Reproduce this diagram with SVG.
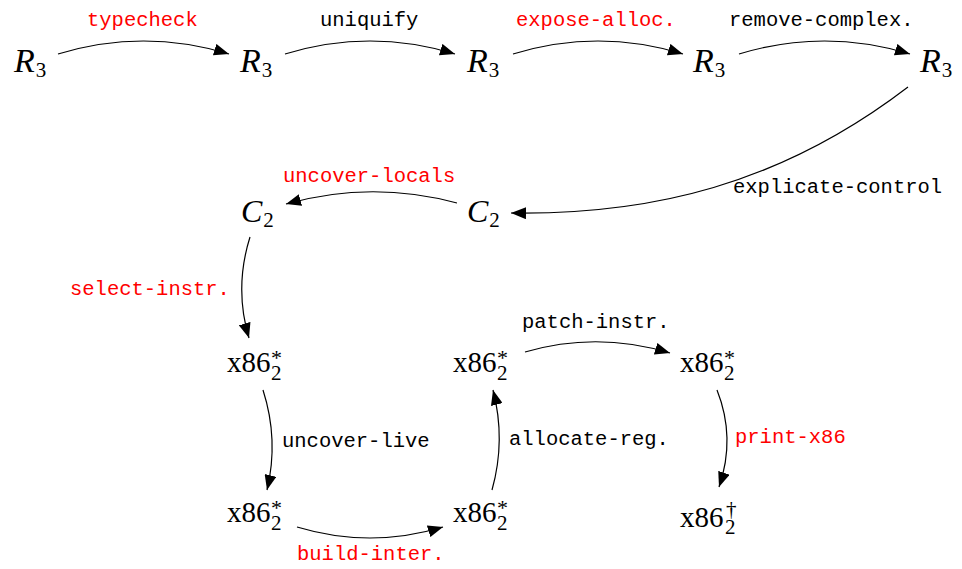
<svg xmlns="http://www.w3.org/2000/svg" width="962" height="569" viewBox="0 0 962 569">
<style>
.n{font-family:"Liberation Serif",serif;font-size:32px;fill:#000}
.r{font-size:34px}
.i{font-style:italic}
.s{font-size:21px;font-style:normal}
.x{font-family:"Liberation Serif",serif;font-size:29px;fill:#000}
.sup{font-size:22px}
.lb{font-family:"Liberation Mono",monospace;font-size:20.5px;fill:#000}
.red{fill:#ff0000}
.e{fill:none;stroke:#000;stroke-width:1.2;marker-end:url(#ah)}
</style>
<defs>
<marker id="ah" markerWidth="16" markerHeight="12" refX="15" refY="6" orient="auto" markerUnits="userSpaceOnUse">
<path d="M0,0 L15,6 L0,12 z" fill="#000"/>
</marker>
</defs>
<g id="r3a"><text class="n r i" x="14" y="72">R<tspan class="s" dx="1" dy="5">3</tspan></text></g>
<g id="r3b"><text class="n r i" x="240" y="72">R<tspan class="s" dx="1" dy="5">3</tspan></text></g>
<g id="r3c"><text class="n r i" x="467" y="72">R<tspan class="s" dx="1" dy="5">3</tspan></text></g>
<g id="r3d"><text class="n r i" x="693" y="72">R<tspan class="s" dx="1" dy="5">3</tspan></text></g>
<g id="r3e"><text class="n r i" x="920" y="72">R<tspan class="s" dx="1" dy="5">3</tspan></text></g>
<g id="c2a"><text class="n i" x="241" y="222">C<tspan class="s" dx="1" dy="5">2</tspan></text></g>
<g id="c2b"><text class="n i" x="467" y="222">C<tspan class="s" dx="1" dy="5">2</tspan></text></g>
<g id="x86a"><text class="x" x="227" y="372">x86<tspan class="sup" x="271" y="365">*</tspan><tspan class="s" x="271" y="380">2</tspan></text></g>
<g id="x86b"><text class="x" x="453" y="372">x86<tspan class="sup" x="497" y="365">*</tspan><tspan class="s" x="497" y="380">2</tspan></text></g>
<g id="x86c"><text class="x" x="680" y="372">x86<tspan class="sup" x="724" y="365">*</tspan><tspan class="s" x="724" y="380">2</tspan></text></g>
<g id="x86d"><text class="x" x="227" y="522">x86<tspan class="sup" x="271" y="515">*</tspan><tspan class="s" x="271" y="530">2</tspan></text></g>
<g id="x86e"><text class="x" x="453" y="522">x86<tspan class="sup" x="497" y="515">*</tspan><tspan class="s" x="497" y="530">2</tspan></text></g>
<g id="x86f"><text class="x" x="680" y="527">x86<tspan class="s" x="726" y="516">†</tspan><tspan class="s" x="725" y="534">2</tspan></text></g>
<g id="connectors">
<path class="e" d="M58,54 Q143.5,28 229,54"/>
<path class="e" d="M285,54 Q370,28 455,54"/>
<path class="e" d="M513,54 Q598,28 683,54"/>
<path class="e" d="M739,54 Q824.5,28 910,54"/>
<path class="e" d="M908,87 C780,185 650,215 511,213"/>
<path class="e" d="M457,203 Q371,180 286,204"/>
<path class="e" d="M250,237 Q234,288 249,338"/>
<path class="e" d="M263,390 Q279,440 267,490"/>
<path class="e" d="M297,527 Q370,549 443,527"/>
<path class="e" d="M492,490 Q506,440 493,390"/>
<path class="e" d="M525,352 Q597,331 670,353"/>
<path class="e" d="M717,390 Q736,438 719,487"/>
<text class="lb red" x="87" y="26">typecheck</text>
<text class="lb" x="320" y="26">uniquify</text>
<text class="lb red" x="516" y="26">expose-alloc.</text>
<text class="lb" x="729" y="26">remove-complex.</text>
<text class="lb" x="733" y="193">explicate-control</text>
<text class="lb red" x="283" y="182">uncover-locals</text>
<text class="lb red" x="70" y="295">select-instr.</text>
<text class="lb" x="522" y="328">patch-instr.</text>
<text class="lb" x="282" y="447">uncover-live</text>
<text class="lb" x="509" y="445">allocate-reg.</text>
<text class="lb red" x="735" y="443">print-x86</text>
<text class="lb red" x="297" y="560">build-inter.</text>
</g>
</svg>
